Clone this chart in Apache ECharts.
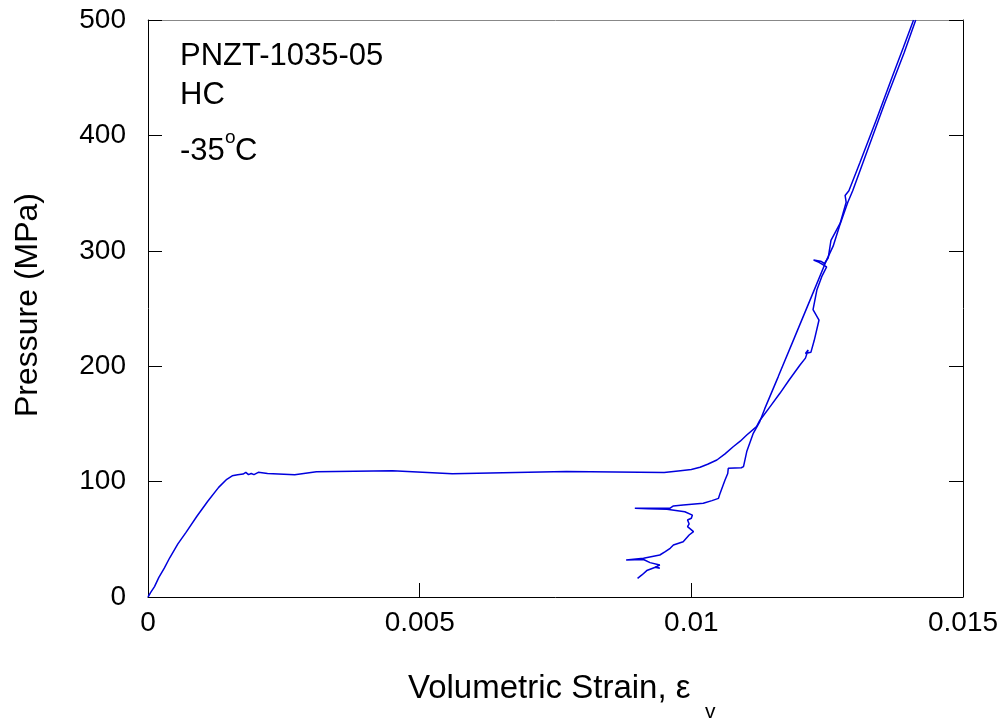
<!DOCTYPE html>
<html>
<head>
<meta charset="utf-8">
<script src="https://cdn.jsdelivr.net/npm/echarts@6/dist/echarts.min.js"></script>
<style>
  html, body { margin: 0; padding: 0; background: #fff; }
  #chart { width: 1003px; height: 723px; }
</style>
</head>
<body>
<div id="chart"></div>
<script>
(function() {
    'use strict';

    // loading path: linear rise, plateau, then hardening to 500 MPa
    var loadStrain = [0, 0.00005, 0.00012, 0.0002, 0.0003, 0.0004, 0.00055, 0.0007, 0.0009, 0.0011,
        0.0013, 0.00145, 0.00155, 0.00165, 0.00175, 0.0018, 0.00185, 0.0019, 0.00195, 0.00203,
        0.0022, 0.0027, 0.0031, 0.0045, 0.0056, 0.0077, 0.0095, 0.0098, 0.01, 0.01016,
        0.0103, 0.01047, 0.01062, 0.01077, 0.0109, 0.01102, 0.0112, 0.01126, 0.01145, 0.01163,
        0.0118, 0.012, 0.0121, 0.01215, 0.0121, 0.0122, 0.01226, 0.01235, 0.01224, 0.01231,
        0.0124, 0.01249, 0.01235, 0.01225, 0.01238, 0.01245, 0.01252, 0.01257, 0.01274, 0.01285,
        0.01283, 0.0129, 0.0131, 0.0134, 0.0137, 0.0139, 0.01409];
    var loadPressure = [0, 4, 9, 17, 25, 34, 46, 56, 70, 83,
        95, 102, 105, 106, 106.5, 108, 106, 107, 106, 108,
        107, 106, 108.6, 109.5, 106.8, 108.8, 107.8, 109.5, 110.5, 112.4,
        115, 118.7, 124, 130.2, 135, 140.4, 147.6, 153, 165, 176.5,
        188, 201, 207, 214, 211, 212, 222, 240, 249, 266,
        277.6, 286, 290, 292, 291, 289, 294, 309, 324, 342,
        348, 352, 376, 413, 451, 476, 500];

    // unloading path back down to about 16 MPa
    var unloadStrain = [0.01413, 0.01392, 0.01356, 0.01321, 0.01297, 0.01288, 0.01273, 0.01261, 0.01248, 0.0122,
        0.0119, 0.0116, 0.01135, 0.01126, 0.01114, 0.01102, 0.01096, 0.01092, 0.01068, 0.01067,
        0.01062, 0.01053, 0.0105, 0.01038, 0.01022, 0.00985, 0.00967, 0.00961, 0.00896, 0.0092,
        0.00955, 0.00988, 0.01002, 0.01, 0.00993, 0.00996, 0.00993, 0.01004, 0.00996, 0.00985,
        0.00967, 0.00961, 0.00952, 0.00942, 0.00912, 0.0088, 0.00912, 0.00924, 0.00942, 0.00933,
        0.00942, 0.00935, 0.00918, 0.00909, 0.00901];
    var unloadPressure = [500, 472, 428, 383, 352, 342, 322, 304, 291, 259,
        225, 191, 163, 152, 141.8, 126, 113, 112, 111.5, 107,
        101.4, 90, 85.5, 83.5, 81.2, 79.7, 78.9, 77, 76.9, 76.5,
        76, 73.9, 71, 68.2, 66.7, 63.3, 61, 56.6, 53.7, 47.9,
        45, 42.2, 39.3, 36.4, 33.5, 32, 32.5, 29.8, 27.7, 25.7,
        24.9, 26, 22.9, 19.1, 16.2];

    var xTicks = [0, 0.005, 0.01, 0.015];
    var yTicks = [0, 100, 200, 300, 400, 500];

    var FONT = 'Liberation Sans, Arial, sans-serif';
    var LINE = '#0000dd';

    function pairs(xs, ys) {
        var out = [];
        for (var i = 0; i < xs.length; i++) {
            out.push([xs[i], ys[i]]);
        }
        return out;
    }

    var chart = echarts.init(document.getElementById('chart'));

    var option = {
        animation: false,
        backgroundColor: '#fff',
        grid: { left: 148, right: 40, top: 20, bottom: 126 },
        xAxis: [{
            type: 'value',
            min: xTicks[0],
            max: xTicks[xTicks.length - 1],
            interval: 0.005,
            axisLine: { show: true, onZero: false, lineStyle: { color: '#000', width: 1 } },
            axisTick: { show: true, inside: true, length: 14, lineStyle: { color: '#000' } },
            axisLabel: {
                margin: 12, color: '#000', fontSize: 28, fontFamily: FONT,
                formatter: function(v) { return String(+v.toFixed(3)); }
            },
            splitLine: { show: false }
        }, {
            type: 'value',
            position: 'top',
            min: xTicks[0],
            max: xTicks[xTicks.length - 1],
            axisLine: { show: true, onZero: false, lineStyle: { color: '#888', width: 1 } },
            axisTick: { show: false },
            axisLabel: { show: false },
            splitLine: { show: false }
        }],
        yAxis: [{
            type: 'value',
            min: yTicks[0],
            max: yTicks[yTicks.length - 1],
            interval: 100,
            axisLine: { show: true, onZero: false, lineStyle: { color: '#000', width: 1 } },
            axisTick: { show: true, inside: true, length: 14, lineStyle: { color: '#000' } },
            axisLabel: { margin: 22, color: '#000', fontSize: 28, fontFamily: FONT },
            splitLine: { show: false }
        }, {
            type: 'value',
            position: 'right',
            min: yTicks[0],
            max: yTicks[yTicks.length - 1],
            interval: 100,
            axisLine: { show: true, onZero: false, lineStyle: { color: '#000', width: 1 } },
            axisTick: { show: true, inside: true, length: 14, lineStyle: { color: '#000' } },
            axisLabel: { show: false },
            splitLine: { show: false }
        }],
        series: [{
            name: 'loading',
            type: 'line',
            showSymbol: false,
            data: pairs(loadStrain, loadPressure),
            lineStyle: { color: LINE, width: 1.5 },
            z: 3
        }, {
            name: 'unloading',
            type: 'line',
            showSymbol: false,
            data: pairs(unloadStrain, unloadPressure),
            lineStyle: { color: LINE, width: 1.5 },
            z: 3
        }],
        graphic: [
            { type: 'text', left: 180, top: 41, style: { text: 'PNZT-1035-05', fontSize: 31, fontFamily: FONT, fill: '#000' } },
            { type: 'text', left: 180, top: 80, style: { text: 'HC', fontSize: 31, fontFamily: FONT, fill: '#000' } },
            { type: 'text', left: 180, top: 136, style: { text: '-35', fontSize: 31, fontFamily: FONT, fill: '#000' } },
            { type: 'text', left: 225, top: 128, style: { text: 'o', fontSize: 19, fontFamily: FONT, fill: '#000' } },
            { type: 'text', left: 235, top: 136, style: { text: 'C', fontSize: 31, fontFamily: FONT, fill: '#000' } },
            { type: 'text', left: 408, top: 672, style: { text: 'Volumetric Strain, \u03b5', fontSize: 33, fontFamily: FONT, fill: '#000' } },
            { type: 'text', left: 705, top: 702, style: { text: 'v', fontSize: 21, fontFamily: FONT, fill: '#000' } },
            {
                type: 'text', x: 28, y: 305, rotation: Math.PI / 2,
                style: { text: 'Pressure (MPa)', fontSize: 32, fontFamily: FONT, fill: '#000', align: 'center', verticalAlign: 'middle' }
            }
        ]
    };

    chart.setOption(option);
})();
</script>
</body>
</html>
